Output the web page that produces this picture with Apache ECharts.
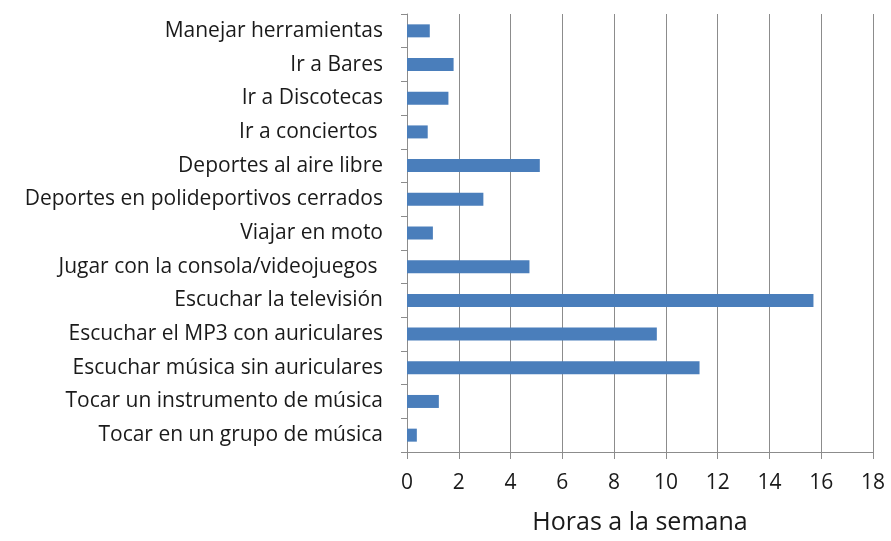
<!DOCTYPE html>
<html>
<head>
<meta charset="utf-8">
<script src="https://cdn.jsdelivr.net/npm/echarts@6/dist/echarts.min.js"></script>
<style>
  html, body { margin: 0; padding: 0; background: #fff; }
  #chart { width: 891px; height: 541px; }
</style>
</head>
<body>
<div id="chart"></div>
<script>
// Activities, listed top to bottom
const activities = [
  'Manejar herramientas',
  'Ir a Bares',
  'Ir a Discotecas',
  'Ir a conciertos ',
  'Deportes al aire libre',
  'Deportes en polideportivos cerrados',
  'Viajar en moto',
  'Jugar con la consola/videojuegos ',
  'Escuchar la televisión',
  'Escuchar el MP3 con auriculares',
  'Escuchar música sin auriculares',
  'Tocar un instrumento de música',
  'Tocar en un grupo de música'
];

// Hours per week for each activity
const hoursPerWeek = [0.88, 1.8, 1.6, 0.8, 5.13, 2.95, 1.0, 4.73, 15.7, 9.65, 11.3, 1.23, 0.38];

const axisTitle = 'Horas a la semana';
const xMin = 0, xMax = 18, xStep = 2;

const chart = echarts.init(document.getElementById('chart'), null, { renderer: 'canvas' });
const font = '"Open Sans", Lato, sans-serif';

chart.setOption({
  animation: false,
  backgroundColor: '#ffffff',
  grid: { left: 407, right: 18, top: 14, bottom: 89, containLabel: false },
  xAxis: {
    type: 'value',
    min: xMin, max: xMax, interval: xStep,
    name: axisTitle,
    nameLocation: 'middle',
    nameGap: 58,
    nameTextStyle: { fontFamily: font, fontSize: 25, color: '#1a1a1a' },
    axisLine: { show: true, lineStyle: { color: '#8c8c8c', width: 1 } },
    axisTick: { show: true, length: 7, lineStyle: { color: '#8c8c8c' } },
    axisLabel: { fontFamily: font, fontSize: 21, color: '#1a1a1a', margin: 21 },
    splitLine: { show: true, lineStyle: { color: '#8c8c8c', width: 1 } }
  },
  yAxis: {
    type: 'category',
    data: activities,
    inverse: true,
    axisLine: { show: true, lineStyle: { color: '#8c8c8c', width: 1 } },
    axisTick: { show: true, length: 6, inside: false, lineStyle: { color: '#8c8c8c' } },
    axisLabel: { fontFamily: font, fontSize: 21, color: '#1a1a1a', margin: 24 }
  },
  series: [{
    type: 'bar',
    data: hoursPerWeek,
    barWidth: 13,
    itemStyle: { color: '#4a7ebb' }
  }]
});
</script>
</body>
</html>
